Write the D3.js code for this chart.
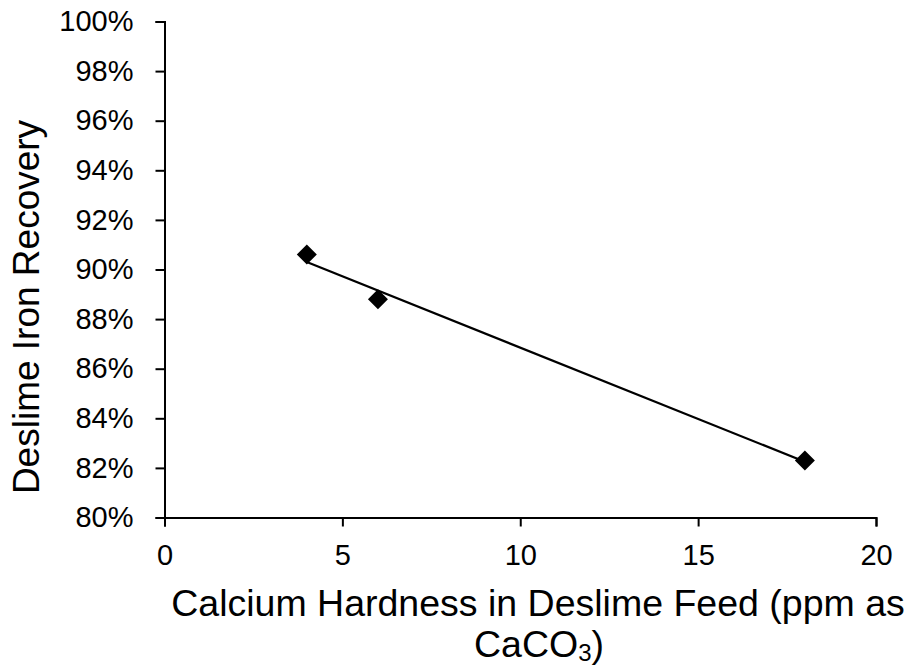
<!DOCTYPE html>
<html><head><meta charset="utf-8">
<script src="https://cdn.jsdelivr.net/npm/d3@7/dist/d3.min.js"></script>
<style>body{margin:0;background:#fff;} svg{display:block;} text{font-family:"Liberation Sans",Arial,sans-serif;fill:#000;}</style>
</head><body>
<svg id="c" width="906" height="668"></svg>
<script>
const hardness = [4, 6, 18];
const recovery = [0.906, 0.888, 0.823];
const xTicks = [0, 5, 10, 15, 20];
const yTicks = [0.80, 0.82, 0.84, 0.86, 0.88, 0.90, 0.92, 0.94, 0.96, 0.98, 1.00];

const svg = d3.select("#c");
const x = d3.scaleLinear().domain([0, 20]).range([164.5, 876]);
const y = d3.scaleLinear().domain([0.80, 1.00]).range([517.5, 21.5]);

const fmtPct = d3.format(".0%");
const yAxis = d3.axisLeft(y).tickValues(yTicks).tickFormat(fmtPct).tickSize(9).tickPadding(22);
const xAxis = d3.axisBottom(x).tickValues(xTicks).tickFormat(d3.format("d")).tickSize(9).tickPadding(18);

const gy = svg.append("g").attr("transform", `translate(${x(0)},0)`).call(yAxis);
const gx = svg.append("g").attr("transform", `translate(0,${y(0.80)})`).call(xAxis);
[gx, gy].forEach(g => {
  g.select(".domain").attr("stroke", "#000").attr("stroke-width", 2);
  g.selectAll(".tick line").attr("stroke", "#000").attr("stroke-width", 2);
  g.selectAll(".tick text").attr("font-size", 29).attr("font-family", "Liberation Sans, Arial, sans-serif").attr("fill", "#000");
});

// linear trendline (least squares from the data)
const n = hardness.length;
const mx = d3.mean(hardness), my = d3.mean(recovery);
let sxy = 0, sxx = 0;
for (let i = 0; i < n; i++) { sxy += (hardness[i]-mx)*(recovery[i]-my); sxx += (hardness[i]-mx)**2; }
const slope = sxy / sxx, icpt = my - slope * mx;
const xr = d3.extent(hardness);
svg.append("line")
  .attr("x1", x(xr[0])).attr("y1", y(icpt + slope * xr[0]))
  .attr("x2", x(xr[1])).attr("y2", y(icpt + slope * xr[1]))
  .attr("stroke", "#000").attr("stroke-width", 2.2);

svg.selectAll("path.pt").data(hardness).join("path")
  .attr("class", "pt")
  .attr("transform", (d, i) => `translate(${x(d)},${y(recovery[i])})`)
  .attr("d", "M0,-10L10,0L0,10L-10,0Z")
  .attr("fill", "#000");

// axis titles
svg.append("text").attr("transform", "translate(39,307) rotate(-90)")
  .attr("text-anchor", "middle").attr("font-size", 37).text("Deslime Iron Recovery");

const xt = svg.append("text").attr("text-anchor", "middle").attr("font-size", 37.5);
xt.append("tspan").attr("x", 538).attr("y", 616).text("Calcium Hardness in Deslime Feed (ppm as");
const l2 = xt.append("tspan").attr("x", 539).attr("y", 657);
l2.text("CaCO");
l2.append("tspan").attr("font-size", 24).attr("dy", 4).text("3");
l2.append("tspan").attr("dy", -4).text(")");
</script>
</body></html>
